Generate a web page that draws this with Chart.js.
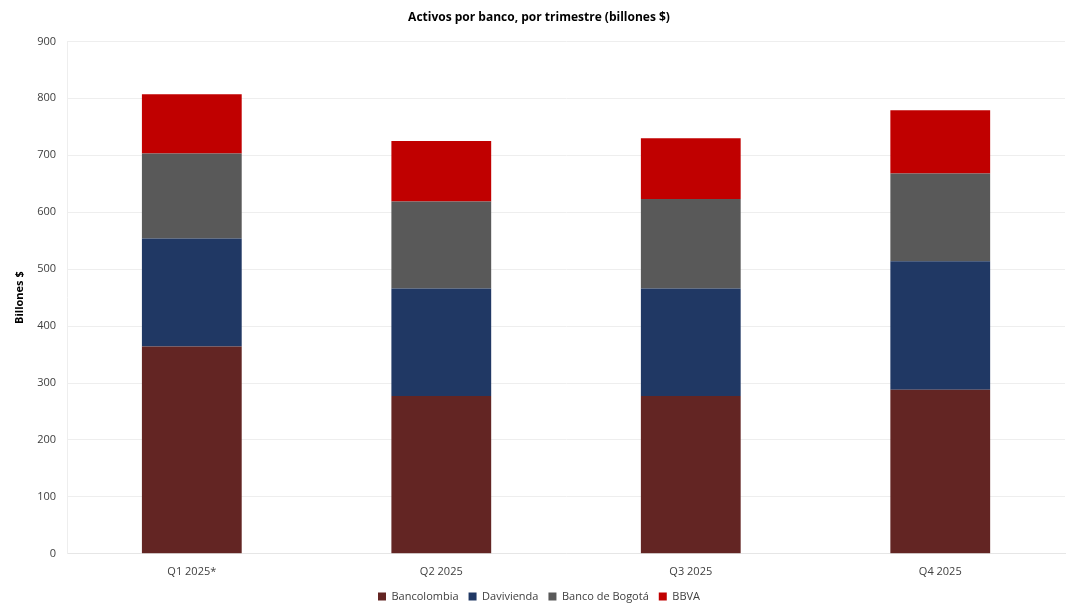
<!DOCTYPE html>
<html>
<head>
<meta charset="utf-8">
<script src="https://cdn.jsdelivr.net/npm/chart.js@4"></script>
<style>
  html, body { margin: 0; padding: 0; background: #fff; }
  #wrap { width: 1072px; height: 612px; }
</style>
</head>
<body>
<div id="wrap"><canvas id="ChartCanvas"></canvas></div>
<script>
const quarters = ['Q1 2025*', 'Q2 2025', 'Q3 2025', 'Q4 2025'];
const bancolombia = [364, 277, 277, 288];
const davivienda = [190, 189, 189, 226];
const bancoBogota = [149, 153, 157, 154];
const bbva = [104, 106, 107, 111];

const font = "'Open Sans', 'Liberation Sans', sans-serif";

const makeSet = (label, data, color) => ({
  label: label,
  data: data,
  backgroundColor: color,
  borderWidth: 0,
  categoryPercentage: 0.4,
  barPercentage: 1.0,
});

new Chart(document.getElementById('ChartCanvas'), {
  type: 'bar',
  data: {
    labels: quarters,
    datasets: [
      makeSet('Bancolombia', bancolombia, '#632523'),
      makeSet('Davivienda', davivienda, '#203864'),
      makeSet('Banco de Bogotá', bancoBogota, '#595959'),
      makeSet('BBVA', bbva, '#C00000'),
    ]
  },
  options: {
    animation: false,
    responsive: true,
    maintainAspectRatio: false,
    layout: { padding: { left: 13, right: 7, top: 4, bottom: 0 } },
    scales: {
      x: {
        stacked: true,
        grid: { display: false },
        border: { color: '#e6e6e6' },
        ticks: { color: '#404040', font: { family: font, size: 11 }, padding: 3 }
      },
      y: {
        stacked: true,
        min: 0,
        max: 900,
        ticks: { stepSize: 100, color: '#404040', font: { family: font, size: 11 }, padding: 11 },
        grid: { color: '#eeeeee', drawTicks: false },
        border: { color: '#eeeeee' },
        title: {
          display: true,
          text: 'Billones $',
          color: '#000',
          font: { family: font, size: 11, weight: 'bold' },
          padding: 0
        }
      }
    },
    plugins: {
      title: {
        display: true,
        text: 'Activos por banco, por trimestre (billones $)',
        color: '#000',
        font: { family: font, size: 12, weight: 'bold' },
        padding: { top: 6, bottom: 17 }
      },
      legend: {
        position: 'bottom',
        labels: {
          color: '#404040',
          font: { family: font, size: 11 },
          boxWidth: 8,
          boxHeight: 8,
          padding: 10
        }
      },
      tooltip: { enabled: false }
    }
  }
});
</script>
</body>
</html>
